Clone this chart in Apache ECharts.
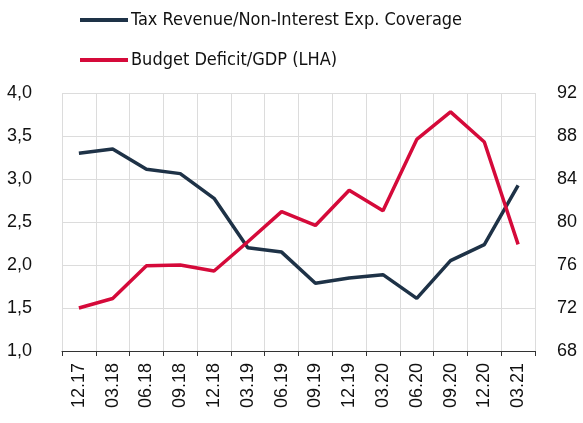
<!DOCTYPE html>
<html lang="en">
<head>
    <meta charset="UTF-8">
    <title>Coverage vs deficit</title>
    <script src="https://cdn.jsdelivr.net/npm/echarts@6/dist/echarts.min.js"></script>
    <style>
        html, body { margin: 0; padding: 0; background: #fff; }
    </style>
</head>
<body>
    <div id="chart1" style="width:583px;height:423px;"></div>
</body>
<script type="text/javascript">
    var quarters = ['12.17', '03.18', '06.18', '09.18', '12.18', '03.19', '06.19', '09.19', '12.19', '03.20', '06.20', '09.20', '12.20', '03.21']
    // right axis
    var taxCoverage = [86.4, 86.8, 84.9, 84.5, 82.2, 77.6, 77.2, 74.3, 74.8, 75.1, 72.9, 76.4, 77.9, 83.4]
    // left axis
    var deficitGdp = [1.50, 1.61, 1.99, 2.00, 1.93, 2.27, 2.62, 2.46, 2.87, 2.63, 3.46, 3.78, 3.43, 2.24]
    var leftTicks = [1.0, 1.5, 2.0, 2.5, 3.0, 3.5, 4.0]
    var rightTicks = [68, 72, 76, 80, 84, 88, 92]

    var chart = echarts.init(document.getElementById('chart1'))
    var lblFont = 'Liberation Sans, Arial, sans-serif'

    var option = {
        animation: false,
        legend: {
            orient: 'vertical',
            left: 75,
            top: 6,
            itemWidth: 48,
            itemHeight: 4,
            itemGap: 22,
            icon: 'rect',
            textStyle: { fontFamily: 'DejaVu Sans Condensed, sans-serif', fontSize: 18, color: '#111', padding: [0, 0, 0, -2] },
            data: ['Tax Revenue/Non-Interest Exp. Coverage', 'Budget Deficit/GDP (LHA)']
        },
        grid: { left: 62, right: 48, top: 93, bottom: 72 },
        xAxis: {
            type: 'category',
            data: quarters,
            boundaryGap: true,
            axisLine: { lineStyle: { color: '#333', width: 1 } },
            axisTick: { show: true, length: 5, lineStyle: { color: '#333' } },
            axisLabel: { rotate: 90, fontSize: 18, color: '#111', fontFamily: lblFont, margin: 12 },
            splitLine: { show: true, lineStyle: { color: '#dcdcdc', width: 1 } }
        },
        yAxis: [
            {
                type: 'value',
                min: leftTicks[0],
                max: leftTicks[leftTicks.length - 1],
                interval: 0.5,
                axisLine: { show: false },
                axisTick: { show: false },
                axisLabel: {
                    fontSize: 18, color: '#111', fontFamily: lblFont, margin: 30,
                    formatter: function (v) { return v.toFixed(1).replace('.', ',') }
                },
                splitLine: { lineStyle: { color: '#dcdcdc', width: 1 } }
            },
            {
                type: 'value',
                min: rightTicks[0],
                max: rightTicks[rightTicks.length - 1],
                interval: 4,
                axisLine: { show: false },
                axisTick: { show: false },
                axisLabel: { fontSize: 18, color: '#111', fontFamily: lblFont, margin: 22 },
                splitLine: { show: false }
            }
        ],
        series: [
            {
                name: 'Tax Revenue/Non-Interest Exp. Coverage',
                type: 'line',
                yAxisIndex: 1,
                data: taxCoverage,
                symbol: 'none',
                color: '#1e3247',
                lineStyle: { width: 3.5, color: '#1e3247' }
            },
            {
                name: 'Budget Deficit/GDP (LHA)',
                type: 'line',
                yAxisIndex: 0,
                data: deficitGdp,
                symbol: 'none',
                color: '#d50a3a',
                lineStyle: { width: 3.5, color: '#d50a3a' }
            }
        ]
    }
    chart.setOption(option)
</script>
</html>
